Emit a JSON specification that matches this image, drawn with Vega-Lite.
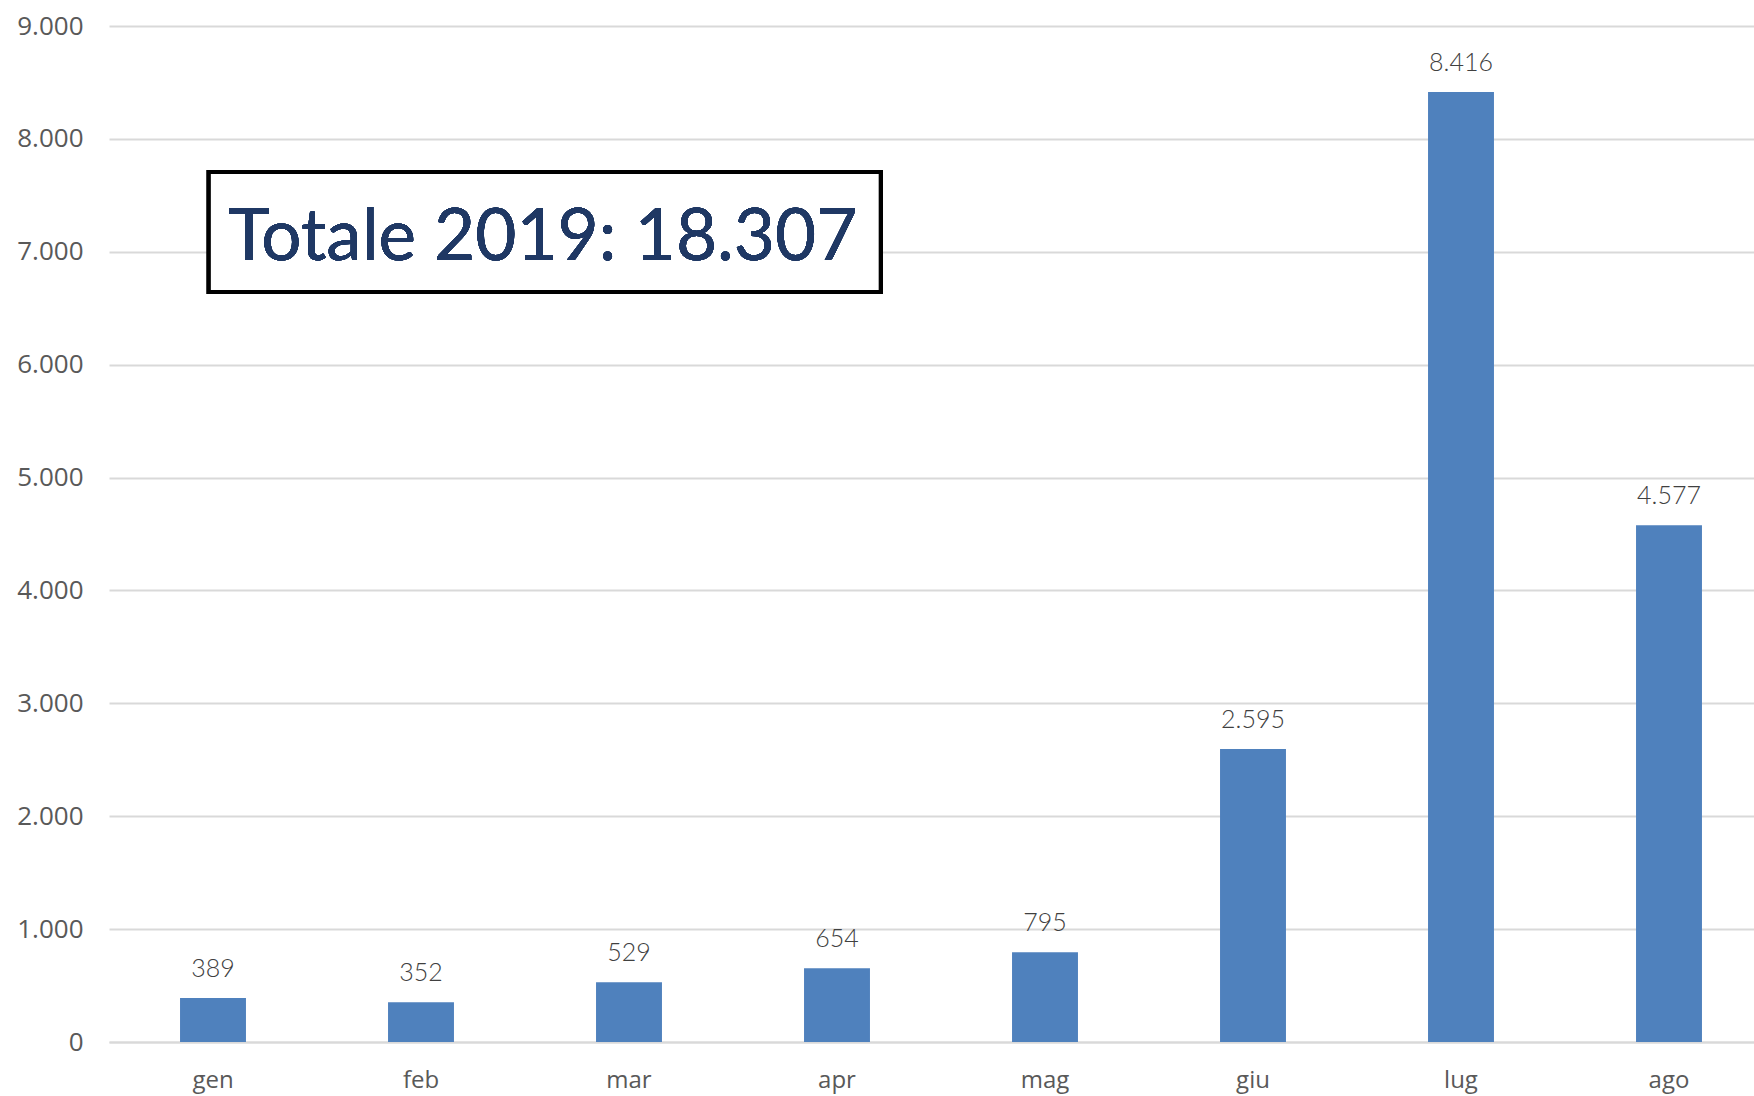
{
  "$schema": "https://vega.github.io/schema/vega-lite/v6.json",
  "autosize": {"type": "none"},
  "width": 1645,
  "height": 1016,
  "padding": {"left": 109, "top": 26, "right": 0, "bottom": 54},
  "background": "white",
  "config": {
    "locale": {"number": {"decimal": ",", "thousands": ".", "grouping": [3], "currency": ["€", ""]}},
    "view": {"stroke": null}
  },
  "data": {"values": [
    {"mese": "gen", "valore": 389},
    {"mese": "feb", "valore": 352},
    {"mese": "mar", "valore": 529},
    {"mese": "apr", "valore": 654},
    {"mese": "mag", "valore": 795},
    {"mese": "giu", "valore": 2595},
    {"mese": "lug", "valore": 8416},
    {"mese": "ago", "valore": 4577}
  ]},
  "encoding": {
    "y": {"field": "valore", "type": "quantitative",
      "scale": {"domain": [0, 9000]},
      "axis": {"title": null, "values": [0,1000,2000,3000,4000,5000,6000,7000,8000,9000], "format": ",d", "labelOverlap": false,
        "labelFont": "Open Sans", "labelFontSize": 26, "labelColor": "#595959", "ticks": false, "domain": false,
        "gridColor": "#D9D9D9", "gridWidth": 2, "labelPadding": 26}}
  },
  "layer": [
    {
      "encoding": {
        "x": {"field": "mese", "type": "nominal", "sort": null,
          "scale": {"range": [0, 1664], "paddingInner": 0.683, "paddingOuter": 0.3415},
          "axis": {"title": null, "labelAngle": 0, "labelFont": "Open Sans", "labelFontSize": 24, "labelColor": "#595959",
            "ticks": false, "domain": true, "domainColor": "#D9D9D9", "domainWidth": 2, "labelPadding": 26, "grid": false}}
      },
      "layer": [
        {"mark": {"type": "bar", "color": "#4F81BD"}},
        {
          "mark": {"type": "text", "baseline": "bottom", "dy": -16, "font": "Lato", "fontWeight": 300, "fontSize": 25, "color": "#404040"},
          "encoding": {
            "text": {"field": "valore", "type": "quantitative", "format": ",d"}
          }
        }
      ]
    },
    {
      "layer": [
        {
          "mark": {"type": "rect", "fill": "white", "stroke": "black", "strokeWidth": 4},
          "encoding": {
            "x": {"datum": 0.48, "type": "quantitative", "scale": {"domain": [0, 8], "range": [0, 1664]}, "axis": null},
            "x2": {"datum": 3.71},
            "y": {"datum": 7706, "type": "quantitative"},
            "y2": {"datum": 6643}
          }
        },
        {
          "mark": {"type": "text", "text": "Totale 2019: 18.307", "font": "Lato", "fontSize": 71, "color": "#1F3864", "align": "center", "baseline": "alphabetic"},
          "encoding": {
            "x": {"datum": 2.085, "type": "quantitative", "scale": {"domain": [0, 8], "range": [0, 1664]}, "axis": null},
            "y": {"datum": 6931, "type": "quantitative"}
          }
        }
      ]
    }
  ],
  "resolve": {"scale": {"x": "independent"}, "axis": {"x": "independent"}}
}
